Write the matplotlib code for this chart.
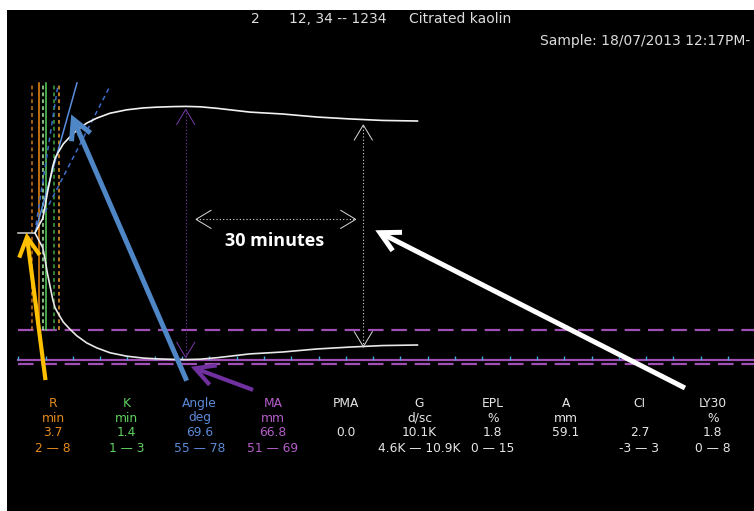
import numpy as np
import matplotlib.pyplot as plt

# TEG trace: time (min) against half amplitude (mm), mirrored about the baseline
split_t = 3.06
t_trace = [3.06, 3.6, 4.0, 4.47, 4.89, 5.31, 5.81, 6.30, 6.72, 7.33, 8.24, 9.47,
           10.70, 12.53, 14.36, 16.79, 19.85, 22.89, 25.3, 28.39, 30.7, 33.3,
           36.4, 42.4, 48.4, 54.7, 60.7, 66.7, 73.1]
amp_trace = [0.0, 1.5, 2.6, 3.8, 6.9, 10.5, 14.0, 17.5, 19.7, 21.3, 23.5, 25.4,
             27.1, 29.0, 30.3, 31.6, 32.5, 33.0, 33.2, 33.35, 33.4, 33.3, 32.9,
             31.9, 31.4, 30.6, 30.1, 29.7, 29.55]

# results table
params = ['R', 'K', 'Angle', 'MA', 'PMA', 'G', 'EPL', 'A', 'CI', 'LY30']
units = ['min', 'min', 'deg', 'mm', '', 'd/sc', '%', 'mm', '', '%']
values = ['3.7', '1.4', '69.6', '66.8', '0.0', '10.1K', '1.8', '59.1', '2.7', '1.8']
ranges = ['2 — 8', '1 — 3', '55 — 78', '51 — 69', '', '4.6K — 10.9K', '0 — 15',
          '', '-3 — 3', '0 — 8']
col_colors = ['#e38a1e', '#5fd25f', '#5b8ad8', '#b45ec8', '#e6e6e6', '#e6e6e6',
              '#e6e6e6', '#e6e6e6', '#e6e6e6', '#e6e6e6']

R, K, MA, A = 3.7, 1.4, 66.8, 59.1
ma_range = (51, 69)

# vertical markers for R / K and their normal ranges (min)
mark_t = [2.51, R, 4.58, R + K, 6.48, 7.51]
mark_style = [('#c8741a', '--'), ('#f08c10', '-'), ('#a8f0a0', '--'),
              ('#5ad65a', '-'), ('#3ea83e', '--'), ('#f0a030', '--')]

# angle tangent lines (min, mm)
tangent_solid = ([3.06, 10.75], [0.0, 39.6])
tangent_dash1 = ([3.24, 7.27], [2.1, 39.1])
tangent_dash2 = ([4.89, 16.81], [5.5, 38.8])

# pixel scale of the tracing
X0, PX_MIN = 18.3, 5.46
Y0, PX_MM = 233.0, 3.79
W, H = 754, 511


def to_px(t, a):
    return X0 + t * PX_MIN, Y0 - a * PX_MM


def to_data(px, py):
    return (px - X0) / PX_MIN, (Y0 - py) / PX_MM


def head(ax, tail, tip, color, lw, length=22, spread=28):
    tx, ty = to_px(*tail)
    hx, hy = to_px(*tip)
    ang = np.arctan2(ty - hy, tx - hx)
    pts = []
    for s in (1, -1):
        a = ang + s * np.radians(spread)
        pts.append(to_data(hx + length * np.cos(a), hy + length * np.sin(a)))
    ax.plot([pts[0][0], tip[0], pts[1][0]], [pts[0][1], tip[1], pts[1][1]],
            color=color, lw=lw, solid_joinstyle='miter', solid_capstyle='butt',
            zorder=6)


def big_arrow(ax, tail, tip, color, lw):
    ax.plot([tail[0], tip[0]], [tail[1], tip[1]], color=color, lw=lw,
            solid_capstyle='butt', zorder=6)
    head(ax, tail, tip, color, lw)


def dotted_arrow(ax, p0, p1, color):
    ax.plot([p0[0], p1[0]], [p0[1], p1[1]], color=color, lw=0.8,
            ls=(0, (1, 2)), zorder=4)
    head(ax, p1, p0, color, 0.7, length=18, spread=31)
    head(ax, p0, p1, color, 0.7, length=18, spread=31)


fig = plt.figure(figsize=(W / 100, H / 100), dpi=100)
fig.patch.set_facecolor('white')
ax = fig.add_axes([7 / W, 0, (W - 7) / W, (H - 10) / H])
ax.set_facecolor('black')
ax.set_xticks([])
ax.set_yticks([])
for s in ax.spines.values():
    s.set_visible(False)
ax.set_xlim(to_data(7, 0)[0], to_data(W, 0)[0])
ax.set_ylim(to_data(0, H)[1], to_data(0, 10)[1])

t_end = to_data(W, 0)[0]
purple = '#a050b4'
ax.plot([0, t_end], [-ma_range[0] / 2] * 2, color=purple, lw=1.6,
        dashes=(7, 3.5), zorder=2)
ax.plot([0, t_end], [-ma_range[1] / 2] * 2, color=purple, lw=1.6,
        dashes=(7, 3.5), zorder=2)
ax.plot([0, t_end], [-MA / 2] * 2, color=purple, lw=1.6, zorder=2)
ticks = np.arange(0, t_end, 5)
ax.vlines(ticks, -MA / 2, -MA / 2 + 0.9, color='#4ea6e0', lw=1, zorder=2)

for t, (c, ls) in zip(mark_t, mark_style):
    ax.plot([t, t], [-ma_range[0] / 2, 39.6], color=c, ls=ls, lw=1.1,
            dashes=(2.5, 2) if ls == '--' else (None, None), zorder=3)

ax.plot(*tangent_solid, color='#5a8ee0', lw=1.1, zorder=3)
ax.plot(*tangent_dash1, color='#3d6cc8', lw=1.1, dashes=(3, 2.5), zorder=3)
ax.plot(*tangent_dash2, color='#3d6cc8', lw=1.1, dashes=(3, 2.5), zorder=3)

# trace
ax.plot([0, split_t], [0, 0], color='#bfbfbf', lw=1.2, zorder=4)
amp = np.array(amp_trace)
ax.plot(t_trace, amp, color='#f2f2f2', lw=1.2, zorder=4)
ax.plot(t_trace, -amp, color='#e8e8e8', lw=1.2, zorder=4)

# MA and 30 minute markers
ma_t = 30.66
dotted_arrow(ax, (ma_t, -32.8), (ma_t, 32.6), '#7a3aa8')
dotted_arrow(ax, (63.19, -30.0), (63.19, 28.5), '#d9d9d9')
dotted_arrow(ax, (32.55, 3.6), (61.8, 3.6), '#d9d9d9')
ax.text(46.9, -2.0, '30 minutes', color='white', fontsize=13,
        fontweight='bold', family='Open Sans', ha='center', va='center')

# pointer arrows (tail, tip)
big_arrow(ax, (4.98, -38.8), (1.59, -1.06), '#ffc000', 3.0)
big_arrow(ax, (30.84, -38.97), (10.07, 30.0), '#4f86c6', 3.6)
big_arrow(ax, (42.99, -41.4), (32.36, -35.7), '#7030a0', 3.0)
big_arrow(ax, (122.1, -40.9), (66.25, 0.08), 'white', 3.6)


def ftext(x, y, s, **kw):
    fig.text(x / W, 1 - y / H, s, va='center', family='DejaVu Sans', **kw)


hdr = '#dcdcdc'
ftext(251, 19, '2', color=hdr, fontsize=10)
ftext(289, 19, '12, 34 -- 1234', color=hdr, fontsize=10)
ftext(409, 19, 'Citrated kaolin', color=hdr, fontsize=10)
ftext(540, 41, 'Sample: 18/07/2013 12:17PM-', color=hdr, fontsize=10)

row_y = [403, 418, 432, 448]
for i, p in enumerate(params):
    cx = 53 + 73.3 * i
    for y, s in zip(row_y, [p, units[i], values[i], ranges[i]]):
        ftext(cx, y, s, color=col_colors[i], fontsize=8.8, ha='center')

fig.savefig('out.png', dpi=100)
